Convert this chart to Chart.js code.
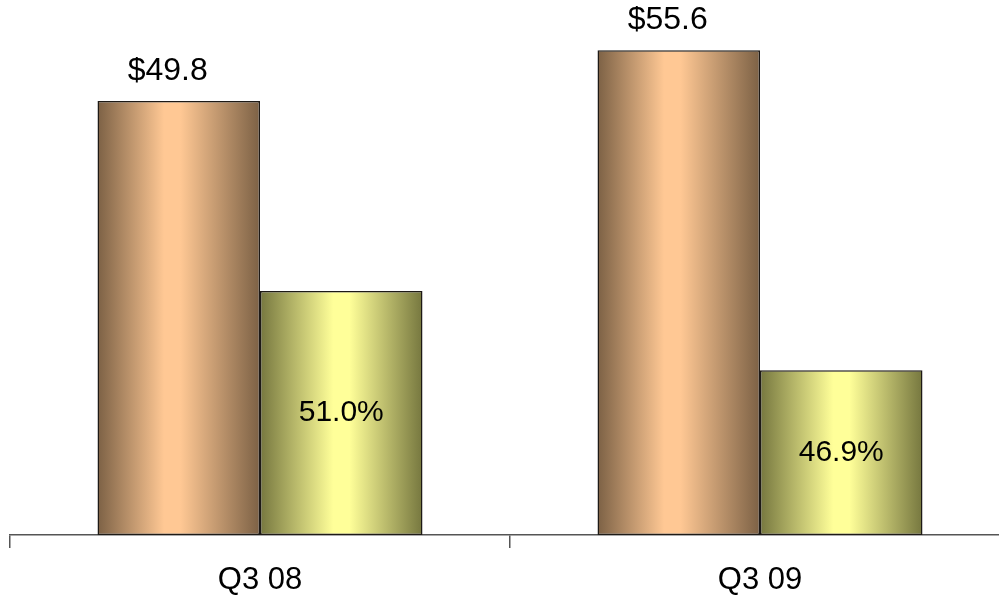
<!DOCTYPE html>
<html>
<head>
<meta charset="utf-8">
<script src="https://cdn.jsdelivr.net/npm/chart.js@4/dist/chart.umd.min.js"></script>
<style>
  html, body { margin: 0; padding: 0; background: #fff; overflow: hidden; }
  #wrap { width: 999px; height: 604px; overflow: hidden; }
</style>
</head>
<body>
<div id="wrap"><canvas id="chart" width="1012" height="604"></canvas></div>
<script>
const categories = ['Q3 08', 'Q3 09'];
const revenue = [49.8, 55.6];
const revenueLabels = ['$49.8', '$55.6'];
const share = [28.0, 18.9];
const shareLabels = ['51.0%', '46.9%'];

// horizontal gradient per bar: dark edges, light centre
const gradientPlugin = {
  id: 'barGradient',
  beforeDatasetsDraw(chart) {
    const ctx = chart.ctx;
    chart.data.datasets.forEach((ds, i) => {
      const meta = chart.getDatasetMeta(i);
      meta.data.forEach(bar => {
        const left = bar.x - bar.width / 2;
        const right = bar.x + bar.width / 2;
        const g = ctx.createLinearGradient(left, 0, right, 0);
        g.addColorStop(0, ds.edgeColor);
        g.addColorStop(ds.peak - 0.05, ds.midColor);
        g.addColorStop(ds.peak + 0.05, ds.midColor);
        g.addColorStop(1, ds.edgeColor);
        bar.options.backgroundColor = g;
      });
    });
  }
};

const labelPlugin = {
  id: 'barLabels',
  afterDatasetsDraw(chart) {
    const ctx = chart.ctx;
    ctx.save();
    ctx.fillStyle = '#000';
    ctx.textAlign = 'center';

    ctx.font = '32px "Liberation Sans", Arial, sans-serif';
    const m0 = chart.getDatasetMeta(0);
    m0.data.forEach((bar, i) => {
      ctx.textBaseline = 'bottom';
      ctx.fillText(revenueLabels[i], bar.x - 11, bar.y - 14);
    });

    ctx.font = '30px "Liberation Sans", Arial, sans-serif';
    const m1 = chart.getDatasetMeta(1);
    m1.data.forEach((bar, i) => {
      ctx.textBaseline = 'middle';
      ctx.fillText(shareLabels[i], bar.x, (bar.y + bar.base) / 2);
    });
    ctx.restore();
  }
};

new Chart(document.getElementById('chart'), {
  type: 'bar',
  data: {
    labels: categories,
    datasets: [
      {
        data: revenue,
        edgeColor: '#7c6145',
        midColor: '#ffc894',
        peak: 0.46,
        backgroundColor: c => '#7c6145',
        borderColor: '#1e1a16',
        borderWidth: 1.5,
        borderSkipped: false
      },
      {
        data: share,
        edgeColor: '#76773f',
        midColor: '#ffff99',
        peak: 0.5,
        backgroundColor: c => '#76773f',
        borderColor: '#1e1a16',
        borderWidth: 1.5,
        borderSkipped: false
      }
    ]
  },
  options: {
    responsive: false,
    animation: false,
    categoryPercentage: 0.65,
    barPercentage: 1.0,
    layout: {
      padding: { top: 12, left: 10, right: 2, bottom: 0 }
    },
    plugins: {
      legend: { display: false },
      tooltip: { enabled: false }
    },
    scales: {
      y: {
        display: false,
        min: 0,
        max: 60
      },
      x: {
        afterFit(scale) { scale.height = 69; },
        border: { display: true, color: '#555', width: 1.5 },
        grid: {
          offset: true,
          drawOnChartArea: false,
          drawTicks: true,
          tickLength: 13,
          color: '#555',
          lineWidth: 1.5
        },
        ticks: {
          color: '#000',
          padding: 14,
          font: { family: '"Liberation Sans", Arial, sans-serif', size: 31 }
        }
      }
    }
  },
  plugins: [gradientPlugin, labelPlugin]
});
</script>
</body>
</html>
